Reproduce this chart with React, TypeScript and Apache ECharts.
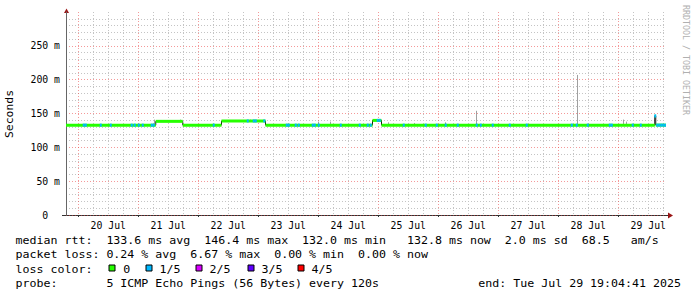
import { useEffect, useRef } from "react";
import * as echarts from "echarts";

// x values are hours since 19 Jul 2025 00:00
const X_MIN = 19.1;
const X_MAX = 259.1;

const dayLabels = ["20 Jul", "21 Jul", "22 Jul", "23 Jul", "24 Jul", "25 Jul", "26 Jul", "27 Jul", "28 Jul", "29 Jul"];
const dayLabelHours = [36, 60, 84, 108, 132, 156, 180, 204, 228, 252];
const midnightHours = [24, 48, 72, 96, 120, 144, 168, 192, 216, 240];
const sixHourHours = [30, 36, 42, 54, 60, 66, 78, 84, 90, 102, 108, 114, 126, 132, 138, 150, 156, 162, 174, 180, 186, 198, 204, 210, 222, 228, 234, 246, 252, 258];

const yTickValues = [0, 50, 100, 150, 200, 250];
const yTickLabels = ["0\u00a0\u00a0", "50 m", "100 m", "150 m", "200 m", "250 m"];

// median RTT levels (ms): [from hour, to hour, ms]
const medianSteps = [
  [19.1, 55.0, 132.8],
  [55.0, 65.8, 138.4],
  [65.8, 81.3, 132.8],
  [81.3, 98.9, 139.0],
  [98.9, 141.7, 132.8],
  [141.7, 145.3, 139.8],
  [145.3, 254.6, 132.8],
  [254.6, 255.0, 146.4],
  [255.0, 259.1, 132.8],
];

// hours where 1 of 5 pings was lost
const lossOneHours = [
  26.2, 27.0, 33.0, 37.0, 45.4, 46.6, 48.2, 49.8, 53.4, 54.2, 78.2, 91.8, 94.2, 95.0, 98.4,
  107.4, 108.2, 111.0, 112.2, 117.8, 118.6, 120.2, 129.0, 136.6, 139.8, 141.0, 143.8, 144.6,
  154.2, 163.0, 167.4, 171.0, 175.8, 183.4, 185.0, 189.8, 196.6, 203.4, 221.4, 223.4, 227.8,
  236.6, 237.4, 245.8, 249.0, 254.8, 255.6, 256.4, 257.2, 258.0, 258.8,
];

// smoke spikes: [hour, top ms]
const smokeSpikes = [
  [54.3, 141], [64.6, 141], [92.6, 141], [119.8, 138], [124.6, 138], [147.8, 137],
  [158.2, 136], [170.6, 137], [183.3, 154], [223.5, 207], [241.9, 141], [243.3, 138],
];

const lossColors = ["#26ff00", "#00b8ff", "#d800ff", "#5e00ff", "#ff0000"];
const lossLabels = ["0", "1/5", "2/5", "3/5", "4/5"];

const statsMedian = "median rtt:  133.6 ms avg  146.4 ms max  132.0 ms min   132.8 ms now  2.0 ms sd  68.5   am/s";
const statsLoss = "packet loss: 0.24 % avg  6.67 % max  0.00 % min  0.00 % now";
const lossColorTitle = "loss color:";
const probeText = "probe:       5 ICMP Echo Pings (56 Bytes) every 120s";
const endText = "end: Tue Jul 29 19:04:41 2025";

const MONO = "DejaVu Sans Mono";
const LEG_SX = 1.163;

function medianAt(h: number): number {
  for (const s of medianSteps) {
    if (h >= s[0] && h < s[1]) return s[2];
  }
  return medianSteps[medianSteps.length - 1][2];
}

function legendText(text: string, x: number, y: number, align = "left") {
  return {
    type: "text",
    x,
    y,
    scaleX: LEG_SX,
    silent: true,
    style: { text, fontFamily: MONO, fontSize: 10, fill: "#000", align, verticalAlign: "middle" },
  };
}

export default function App() {
  const ref = useRef<HTMLDivElement>(null);

  useEffect(() => {
    const chart = echarts.init(ref.current!, null, { renderer: "svg" });

    const lineData: number[][] = [];
    medianSteps.forEach((s) => {
      lineData.push([s[0], s[2]]);
      lineData.push([s[1], s[2]]);
    });
    const lossData = lossOneHours.map((h) => [h, medianAt(h), 1]);
    const spikeData = smokeSpikes.map((s) => [s[0], medianAt(s[0]), s[1]]);

    const swatchX = [109, 146, 196, 248, 298];
    const swatchLabelX = [123.3, 159.6, 209.6, 261.6, 311.6];

    const graphics: any[] = [
      // axis extensions and arrows
      { type: "line", silent: true, shape: { x1: 62, y1: 215.5, x2: 669, y2: 215.5 }, style: { stroke: "#333", lineWidth: 1 } },
      { type: "polygon", silent: true, shape: { points: [[668, 212.5], [673, 215.5], [668, 218.5]] }, style: { fill: "#9a1515" } },
      { type: "polygon", silent: true, shape: { points: [[64, 13], [66.5, 8.5], [69, 13]] }, style: { fill: "#9a1515" } },
      {
        type: "text", x: 10, y: 114, rotation: Math.PI / 2, scaleX: 1.14, silent: true,
        style: { text: "Seconds", fontFamily: MONO, fontSize: 10, fill: "#000", align: "center", verticalAlign: "middle" },
      },
      {
        type: "text", x: 686, y: 60, rotation: -Math.PI / 2, silent: true,
        style: { text: "RRDTOOL / TOBI OETIKER", fontFamily: MONO, fontSize: 8.3, fill: "#b0b0b0", align: "center", verticalAlign: "middle" },
      },
      legendText(statsMedian, 15.5, 240.8),
      legendText(statsLoss, 15.5, 255.2),
      legendText(lossColorTitle, 15.5, 269.3),
      legendText(probeText, 15.5, 283.5),
      legendText(endText, 681, 283.5, "right"),
    ];
    lossColors.forEach((c, i) => {
      graphics.push({
        type: "rect", silent: true,
        shape: { x: swatchX[i], y: 265, width: 6, height: 6 },
        style: { fill: c, stroke: "#000", lineWidth: 1 },
      });
      graphics.push(legendText(lossLabels[i], swatchLabelX[i], 269.3));
    });

    const option: any = {
      animation: false,
      backgroundColor: "#fff",
      grid: { left: 66, right: 31, top: 12, bottom: 82, containLabel: false },
      xAxis: [
        {
          type: "value", min: X_MIN, max: X_MAX, position: "bottom",
          axisLine: { show: false }, axisLabel: { show: false },
          axisTick: { show: false, customValues: sixHourHours },
          splitLine: { show: true, lineStyle: { color: "#c4c4c4", type: [1, 2], width: 1 } },
        },
        {
          type: "value", min: X_MIN, max: X_MAX, position: "bottom",
          axisLine: { show: false },
          axisTick: { show: true, customValues: midnightHours, length: 2, lineStyle: { color: "#333" } },
          axisLabel: {
            customValues: dayLabelHours,
            formatter: (v: number) => dayLabels[dayLabelHours.indexOf(Math.round(v))] ?? "",
            fontFamily: MONO, fontSize: 9.8, color: "#000", margin: 5,
          },
          splitLine: { show: true, lineStyle: { color: "rgba(235,70,70,0.55)", type: [1, 2], width: 1 } },
        },
      ],
      yAxis: {
        type: "value", min: 0, max: 300, interval: 50,
        axisLine: { show: true, lineStyle: { color: "#666" } },
        axisTick: { show: false, customValues: yTickValues },
        axisLabel: {
          customValues: yTickValues,
          formatter: (v: number) => yTickLabels[yTickValues.indexOf(Math.round(v))] ?? "",
          fontFamily: MONO, fontSize: 9.8, color: "#000", margin: 6,
        },
        splitLine: { show: true, lineStyle: { color: "rgba(235,70,70,0.55)", type: [1, 2], width: 1 } },
        minorTick: { show: false, splitNumber: 5 },
        minorSplitLine: { show: true, lineStyle: { color: "#c4c4c4", type: [1, 2], width: 1 } },
      },
      series: [
        {
          type: "custom", name: "smoke", xAxisIndex: 0, clip: true, z: 1,
          encode: { x: 0, y: [1, 2] },
          data: spikeData,
          renderItem: (_p: any, api: any) => {
            const a = api.coord([api.value(0), api.value(1)]);
            const b = api.coord([api.value(0), api.value(2)]);
            return {
              type: "line",
              shape: { x1: Math.round(a[0]) + 0.5, y1: a[1], x2: Math.round(a[0]) + 0.5, y2: b[1] },
              style: { stroke: "#a0a0a0", lineWidth: 1 },
            };
          },
        },
        {
          type: "line", name: "median", xAxisIndex: 0, data: lineData, symbol: "none", z: 2,
          lineStyle: { color: "#1a1a1a", width: 1 }, silent: true,
        },
        {
          type: "custom", name: "median0", xAxisIndex: 0, clip: true, z: 3,
          encode: { x: [0, 1], y: 2 },
          data: medianSteps,
          renderItem: (_p: any, api: any) => {
            const a = api.coord([api.value(0), api.value(2)]);
            const b = api.coord([api.value(1), api.value(2)]);
            return {
              type: "rect",
              shape: { x: a[0], y: a[1] - 1.5, width: Math.max(1, b[0] - a[0]), height: 3 },
              style: { fill: lossColors[0] },
            };
          },
        },
        {
          type: "custom", name: "loss", xAxisIndex: 0, clip: true, z: 4,
          encode: { x: 0, y: 1 },
          data: lossData,
          renderItem: (_p: any, api: any) => {
            const a = api.coord([api.value(0) - 0.4, api.value(1)]);
            const b = api.coord([api.value(0) + 0.4, api.value(1)]);
            return {
              type: "rect",
              shape: { x: a[0], y: a[1] - 1.5, width: b[0] - a[0], height: 3 },
              style: { fill: lossColors[api.value(2)] },
            };
          },
        },
      ],
      graphic: graphics,
    };

    chart.setOption(option);
    return () => chart.dispose();
  }, []);

  return (
    <div
      ref={ref}
      style={{ position: "fixed", left: 0, top: 0, width: 697, height: 297, background: "#fff" }}
    />
  );
}
